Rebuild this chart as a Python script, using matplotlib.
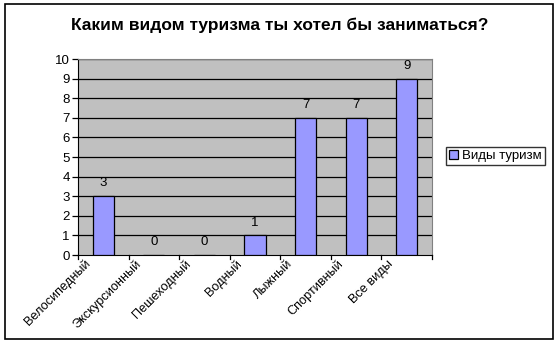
import matplotlib
matplotlib.use("Agg")
import matplotlib.pyplot as plt
from matplotlib.patches import Rectangle
from matplotlib.transforms import ScaledTranslation

categories = ["Велосипедный", "Экскурсионный", "Пешеходный", "Водный",
              "Лыжный", "Спортивный", "Все виды"]
values = [3, 0, 0, 1, 7, 7, 9]
series_name = "Виды туризм"
title = "Каким видом туризма ты хотел бы заниматься?"
yticks = list(range(0, 11))

plt.rcParams['font.family'] = ['Liberation Sans', 'DejaVu Sans']

fig = plt.figure(figsize=(5.6, 3.45), dpi=100)
fig.patch.set_facecolor('white')
# outer chart border
fig.patches.append(Rectangle((5/560, 1 - 339/345), 548/560, 335/345,
                             transform=fig.transFigure, fill=False,
                             edgecolor='black', linewidth=1.2))

ax = fig.add_axes([78/560, 1 - 255/345, (432-78)/560, (255-59)/345])
ax.set_facecolor('#C0C0C0')
x = list(range(len(categories)))
bars = ax.bar(x, values, width=0.42, color='#9999FF', edgecolor='black',
              linewidth=0.9, zorder=3, label=series_name)
ax.set_xlim(-0.5, len(categories) - 0.5)
ax.set_ylim(0, 10)
ax.set_yticks(yticks)
ax.set_yticklabels([str(t) for t in yticks], fontsize=9.5)
for t in yticks[1:]:
    ax.axhline(t, color='black', linewidth=0.9, zorder=1)
for s in ['top', 'right']:
    ax.spines[s].set_color('#808080')
for s in ['left', 'bottom']:
    ax.spines[s].set_color('black')
ax.tick_params(axis='y', length=4, width=0.9, pad=2)
ax.tick_params(axis='x', length=0)
ax.set_xticks(x)
ax.set_xticklabels(categories, rotation=45, ha='right', rotation_mode='anchor',
                   fontsize=9.2, va='center')
ax.tick_params(axis='x', pad=5)
off = ScaledTranslation(-15/100, 0, fig.dpi_scale_trans)
for lbl in ax.get_xticklabels():
    lbl.set_transform(lbl.get_transform() + off)
# boundary tick marks
for b in range(len(categories) + 1):
    ax.plot([b - 0.5, b - 0.5], [0, -0.2], color='black', linewidth=0.9,
            clip_on=False, zorder=4)
for xi, v in zip(x, values):
    ax.text(xi, v + 0.35, str(v), ha='center', va='bottom', fontsize=9.5)

fig.text(280/560, 1 - 25/345, title, ha='center', va='center',
         fontsize=12.5, fontweight='bold')

leg = fig.legend(handles=[bars], labels=[series_name], loc='center',
                 bbox_to_anchor=((443+548)/2/560, 1 - 156/345),
                 fontsize=9.5, frameon=True, fancybox=False, handlelength=0.7,
                 handleheight=0.7, borderpad=0.25, handletextpad=0.3,
                 borderaxespad=0)
leg.get_frame().set_edgecolor('black')
leg.get_frame().set_linewidth(1.0)

fig.savefig('out.png', dpi=100, facecolor='white')
